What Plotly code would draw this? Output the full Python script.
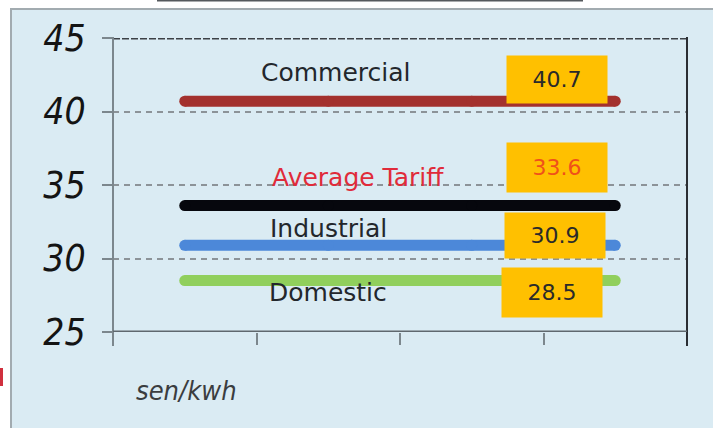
import plotly.graph_objects as go

# Tariff series, sen/kWh, plotted flat across four period slots
periods = [1, 2, 3, 4]
series_names = ["Commercial", "Average Tariff", "Industrial", "Domestic"]
commercial = [40.7, 40.7, 40.7, 40.7]
average_tariff = [33.6, 33.6, 33.6, 33.6]
industrial = [30.9, 30.9, 30.9, 30.9]
domestic = [28.5, 28.5, 28.5, 28.5]
series_values = [commercial, average_tariff, industrial, domestic]
value_labels = ["40.7", "33.6", "30.9", "28.5"]
y_ticks = [25, 30, 35, 40, 45]
unit_label = "sen/kwh"

# Styling
line_colors = ["#a3312e", "#06070d", "#4c88d9", "#90cf5c"]
name_colors = ["#23272c", "#e02b3a", "#23272c", "#23272c"]
value_colors = ["#2a2a2a", "#f0501a", "#2a2a2a", "#2a2a2a"]
name_offsets = [29, 28, 17, -12]      # pixel shift of each name above its line
box_offsets = [22, 38, 10, -12]       # pixel shift of each value box
box_x = [0.7735, 0.7735, 0.770, 0.765]
box_h = [47, 49, 45, 49]
name_x = [0.388, 0.426, 0.376, 0.375]

W, H = 713, 428
ML, MR, MT, MB = 113, 26, 38, 96
PW, PH = W - ML - MR, H - MT - MB

NARROW = "DejaVu Sans Condensed, Liberation Sans Narrow, Liberation Sans, sans-serif"


def px_x(p):
    return (p - ML) / PW


def px_y(p):
    return 1 - (p - MT) / PH


fig = go.Figure()
for name, vals, col in zip(series_names, series_values, line_colors):
    fig.add_trace(go.Scatter(
        x=periods, y=vals, mode="lines+markers", name=name,
        line=dict(color=col, width=11),
        marker=dict(color=col, size=11, line=dict(width=0)),
        hoverinfo="skip", showlegend=False,
    ))

annotations = []
for i, name in enumerate(series_names):
    v = series_values[i][-1]
    annotations.append(dict(
        xref="paper", yref="y", x=name_x[i], y=v, yshift=name_offsets[i],
        text=name, showarrow=False, xanchor="center", yanchor="middle",
        font=dict(family="DejaVu Sans", size=25, color=name_colors[i]),
    ))
    annotations.append(dict(
        xref="paper", yref="y", x=box_x[i], y=v, yshift=box_offsets[i],
        text=value_labels[i], showarrow=False, xanchor="center", yanchor="middle",
        width=100, height=box_h[i], bgcolor="#ffc000", borderpad=0,
        font=dict(family="DejaVu Sans", size=22, color=value_colors[i]),
    ))

annotations.append(dict(
    xref="paper", yref="paper", x=px_x(186), y=px_y(390),
    text=unit_label, showarrow=False, xanchor="center", yanchor="middle",
    font=dict(family=NARROW, size=27, color="#3a3d40", style="italic"),
))

shapes = [
    # panel
    dict(type="rect", xref="paper", yref="paper", layer="below",
         x0=px_x(11), x1=px_x(730), y0=px_y(9), y1=px_y(440),
         fillcolor="#daebf3", line=dict(color="#a2abb0", width=2)),
    # rule above the panel
    dict(type="line", xref="paper", yref="paper",
         x0=px_x(157), x1=px_x(583), y0=px_y(0.5), y1=px_y(0.5),
         line=dict(color="#55595d", width=2)),
    # clipped red mark at the left edge
    dict(type="rect", xref="paper", yref="paper",
         x0=px_x(0), x1=px_x(3), y0=px_y(368), y1=px_y(386),
         fillcolor="#d0303e", line=dict(width=0)),
    # top border at 45
    dict(type="line", xref="paper", yref="y", x0=0, x1=1, y0=45, y1=45,
         line=dict(color="#3c4146", width=3, dash="7px,2px")),
    # right border
    dict(type="line", xref="paper", yref="paper", x0=1, x1=1,
         y0=px_y(346), y1=px_y(37),
         line=dict(color="#2a2e33", width=2)),
    # left axis line
    dict(type="line", xref="paper", yref="paper", x0=0, x1=0,
         y0=px_y(346), y1=px_y(37),
         line=dict(color="#7c878d", width=2)),
    # bottom axis line
    dict(type="line", xref="paper", yref="y", x0=0, x1=1, y0=25, y1=25,
         line=dict(color="#5f686e", width=3)),
]

fig.update_layout(
    width=W, height=H,
    margin=dict(l=ML, r=MR, t=MT, b=MB, pad=0),
    paper_bgcolor="white", plot_bgcolor="rgba(0,0,0,0)",
    annotations=annotations, shapes=shapes,
    xaxis=dict(
        range=[0.5, 4.5], tickvals=[0.5, 1.5, 2.5, 3.5, 4.5],
        showticklabels=False, ticks="outside", ticklen=12, tickwidth=2,
        tickcolor="#7c878d", showgrid=False, zeroline=False, showline=False,
        fixedrange=True,
    ),
    yaxis=dict(
        range=[25, 45], tickvals=y_ticks, ticktext=[str(t) for t in y_ticks],
        ticks="outside", ticklen=10, tickwidth=2, tickcolor="#7c878d",
        ticklabelstandoff=9,
        tickfont=dict(family=NARROW, size=37, color="#141414", style="italic"),
        showgrid=True, gridcolor="#8c9398", gridwidth=1.5, griddash="6px,5px",
        zeroline=False, showline=False, fixedrange=True,
    ),
)

fig.write_html("out.html")
